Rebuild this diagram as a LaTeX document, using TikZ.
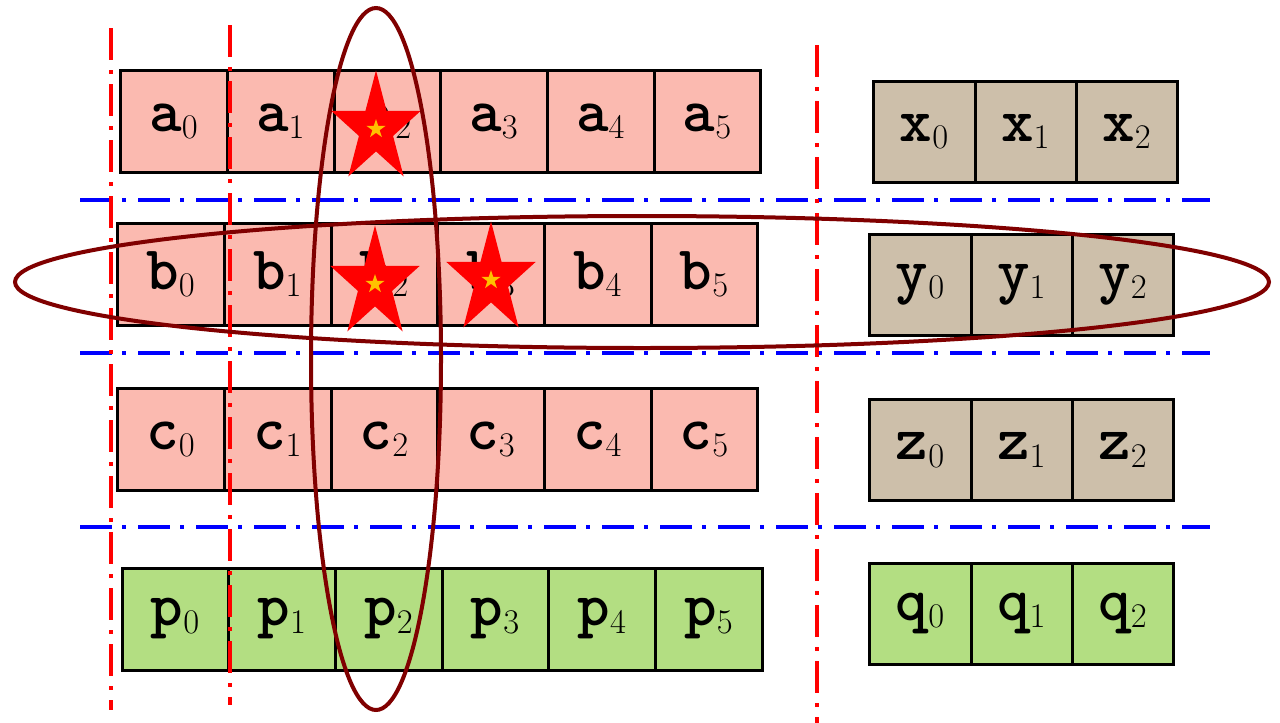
\documentclass[tikz,border=0pt]{standalone}
\usepackage{fontspec}
\usetikzlibrary{positioning}

\definecolor{cellpink}{RGB}{251,186,176}
\definecolor{celltan}{RGB}{205,191,170}
\definecolor{cellgreen}{RGB}{179,222,130}
\definecolor{ringred}{RGB}{128,0,0}
\definecolor{stargold}{RGB}{255,192,0}

\newcommand{\cellname}[2]{{\ttfamily\bfseries\fontsize{31}{36}\selectfont #1}$_{#2}$}

\tikzset{
  starmark/.pic={
    \fill[red] (270:47 and 58.6)
      \foreach \k [evaluate=\k as \r using 0.691+0.309*cos(180*\k)] in {1,...,9}
        { -- ({270+36*\k}:{47*\r} and {58.6*\r}) } -- cycle;
    \fill[stargold] (270:10)
      \foreach \k [evaluate=\k as \r using 0.691+0.309*cos(180*\k)] in {1,...,9}
        { -- ({270+36*\k}:{10*\r}) } -- cycle;
  }
}

\begin{document}
\begin{tikzpicture}[
  x=0.5pt, y=-0.5pt,
  node distance=0pt,
  every node/.style={font={\fontsize{27}{32}\selectfont}},
  cell/.style={draw, line width=1.5pt, outer sep=0pt, inner sep=0pt},
  wide/.style={cell, minimum width=53.35pt, minimum height=51pt},
  narrow/.style={cell, minimum width=50.6pt, minimum height=50.5pt},
  pinkcell/.style={wide, fill=cellpink},
  greencell/.style={wide, fill=cellgreen},
  tancell/.style={narrow, fill=celltan},
  lightcell/.style={narrow, fill=cellgreen},
  vsplit/.style={red, line width=2pt, dash pattern=on 16pt off 5pt on 2pt off 5pt},
  hsplit/.style={blue, line width=1.8pt, dash pattern=on 16pt off 5pt on 2pt off 6pt},
  ring/.style={draw=ringred, line width=2pt}
]
\useasboundingbox (0,0) rectangle (1280,723);

% row separators
\draw[hsplit] (80,200) -- (1210,200);
\draw[hsplit] (80,353) -- (1210,353);
\draw[hsplit] (80,527) -- (1210,527);

% left arrays
\node[pinkcell] (a0) at (174,121) {\cellname{a}{0}};
\node[pinkcell, right=of a0] (a1) {\cellname{a}{1}};
\node[pinkcell, right=of a1] (a2) {\cellname{a}{2}};
\node[pinkcell, right=of a2] (a3) {\cellname{a}{3}};
\node[pinkcell, right=of a3] (a4) {\cellname{a}{4}};
\node[pinkcell, right=of a4] (a5) {\cellname{a}{5}};

\node[pinkcell] (b0) at (171,274) {\cellname{b}{0}};
\node[pinkcell, right=of b0] (b1) {\cellname{b}{1}};
\node[pinkcell, right=of b1] (b2) {\cellname{b}{2}};
\node[pinkcell, right=of b2] (b3) {\cellname{b}{3}};
\node[pinkcell, right=of b3] (b4) {\cellname{b}{4}};
\node[pinkcell, right=of b4] (b5) {\cellname{b}{5}};

\node[pinkcell] (c0) at (171,439) {\cellname{c}{0}};
\node[pinkcell, right=of c0] (c1) {\cellname{c}{1}};
\node[pinkcell, right=of c1] (c2) {\cellname{c}{2}};
\node[pinkcell, right=of c2] (c3) {\cellname{c}{3}};
\node[pinkcell, right=of c3] (c4) {\cellname{c}{4}};
\node[pinkcell, right=of c4] (c5) {\cellname{c}{5}};

\node[greencell] (p0) at (175.5,619) {\cellname{p}{0}};
\node[greencell, right=of p0] (p1) {\cellname{p}{1}};
\node[greencell, right=of p1] (p2) {\cellname{p}{2}};
\node[greencell, right=of p2] (p3) {\cellname{p}{3}};
\node[greencell, right=of p3] (p4) {\cellname{p}{4}};
\node[greencell, right=of p4] (p5) {\cellname{p}{5}};

% right arrays
\node[tancell] (x0) at (924.5,131.5) {\cellname{x}{0}};
\node[tancell, right=of x0] (x1) {\cellname{x}{1}};
\node[tancell, right=of x1] (x2) {\cellname{x}{2}};

\node[tancell] (y0) at (920.5,284.5) {\cellname{y}{0}};
\node[tancell, right=of y0] (y1) {\cellname{y}{1}};
\node[tancell, right=of y1] (y2) {\cellname{y}{2}};

\node[tancell] (z0) at (920.5,450) {\cellname{z}{0}};
\node[tancell, right=of z0] (z1) {\cellname{z}{1}};
\node[tancell, right=of z1] (z2) {\cellname{z}{2}};

\node[lightcell] (q0) at (920.5,613.5) {\cellname{q}{0}};
\node[lightcell, right=of q0] (q1) {\cellname{q}{1}};
\node[lightcell, right=of q1] (q2) {\cellname{q}{2}};

% column separators
\draw[vsplit] (111,28) -- (111,710);
\draw[vsplit] (230,25) -- (230,705);
\draw[vsplit] (817,45) -- (817,723);

% marked elements
\pic at (376,129) {starmark};
\pic at (375,284) {starmark};
\pic at (491,280) {starmark};

% selected column and row
\draw[ring] (376,359) ellipse [x radius=65, y radius=351];
\draw[ring] (642,282) ellipse [x radius=627, y radius=66];

\end{tikzpicture}
\end{document}
